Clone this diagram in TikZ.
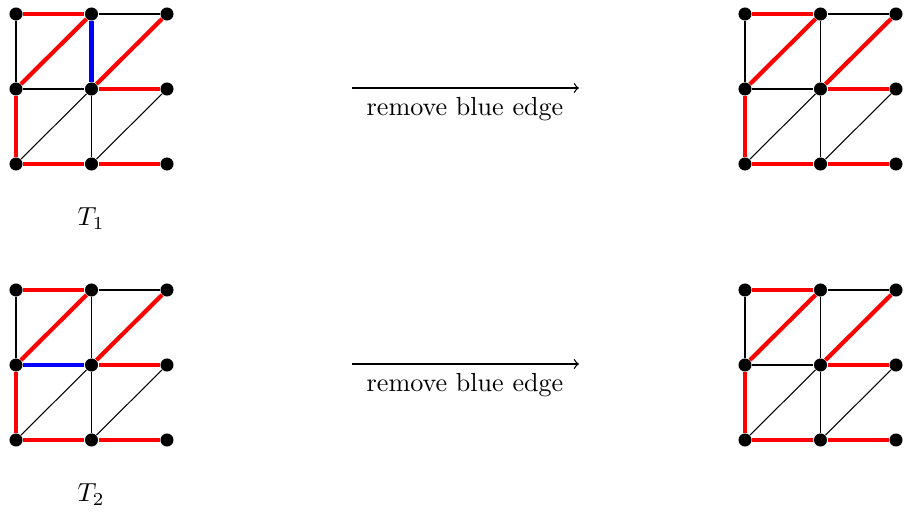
\documentclass[tikz,border=0pt]{standalone}
\begin{document}
\begin{tikzpicture}[x=0.383pt,y=-0.383pt,
  dot/.style={circle,fill=black,inner sep=0pt,minimum size=5pt},
  blk/.style={black,line width=0.4pt},
  redge/.style={red,line width=1.6pt},
  bedge/.style={blue,line width=1.6pt},
  arr/.style={->,line width=0.5pt},
  lbl/.style={inner sep=0pt}]
\useasboundingbox (0,0) rectangle (906,512);
\newcommand{\mygrid}[5]{%
  \foreach \i/\xx in {0/0,1/75.5,2/151}{%
    \foreach \j/\yy in {0/150,1/75,2/0}{%
      \node[dot] (#1\i\j) at (#2+\xx,#3+\yy) {};}}
  \draw[redge] (#102) -- (#112);
  \draw[blk] (#112) -- (#122);
  \draw[blk] (#102) -- (#101);
  \draw[redge] (#101) -- (#100);
  \draw[#4] (#112) -- (#111);
  \draw[blk] (#111) -- (#110);
  \draw[#5] (#101) -- (#111);
  \draw[redge] (#111) -- (#121);
  \draw[redge] (#100) -- (#110);
  \draw[redge] (#110) -- (#120);
  \draw[redge] (#101) -- (#112);
  \draw[redge] (#111) -- (#122);
  \draw[blk] (#100) -- (#111);
  \draw[blk] (#110) -- (#121);
}
\mygrid{a}{16}{14}{bedge}{blk}
\mygrid{b}{745}{14}{blk}{blk}
\mygrid{c}{16}{290}{blk}{bedge}
\mygrid{d}{745}{290}{blk}{blk}
\node[lbl] (t1) at (91,219) {$T_1$};
\node[lbl] (t2) at (91,495) {$T_2$};
\coordinate (s1) at (352,88);
\coordinate (e1) at (579,88);
\draw[arr] (s1) -- (e1);
\node[lbl] (r1) at (465,109.5) {remove blue edge};
\coordinate (s2) at (352,364);
\coordinate (e2) at (579,364);
\draw[arr] (s2) -- (e2);
\node[lbl] (r2) at (465,385.5) {remove blue edge};
\end{tikzpicture}
\end{document}
